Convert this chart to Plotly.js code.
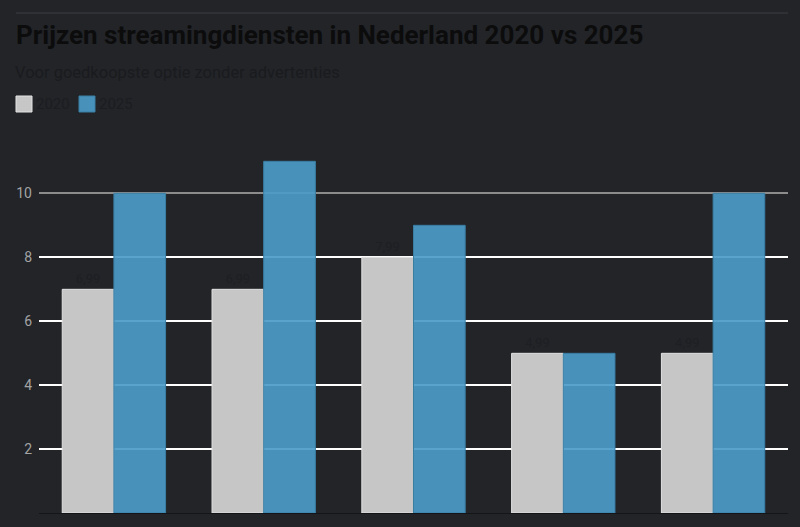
<!DOCTYPE html>
<html>
<head>
<meta charset="utf-8">
<script src="https://cdn.plot.ly/plotly-3.0.1.min.js"></script>
<style>
  html, body { margin: 0; padding: 0; background: #222428; }
  #chart { width: 800px; height: 527px; }
</style>
</head>
<body>
<div id="chart"></div>
<script>
// streamingdiensten, goedkoopste optie zonder advertenties
var diensten = ['Disney+', 'Videoland', 'Netflix', 'Amazon Prime Video', 'Apple TV+'];
var prijzen2020 = [6.99, 6.99, 7.99, 4.99, 4.99];
var prijzen2025 = [9.99, 10.99, 8.99, 4.99, 9.99];
var jaren = ['2020', '2025'];
var kleuren = ['#c6c6c6', 'rgba(75,155,200,0.92)'];
var randen = ['#e2e2e2', '#3a7ea4'];
var yTicks = [2, 4, 6, 8, 10];
var witteLijnen = [2, 4, 6, 8]; // bovenste lijn (10) is grijs

function euro(v) { return v.toFixed(2).replace('.', ','); }

// plotgebied: links 39px, rechts 788px, boven 129px, onder 513px
function px(x) { return (x - 39) / 749; }
function py(y) { return (513 - y) / 384; }

var trace2020 = {
  type: 'bar',
  name: jaren[0],
  x: diensten,
  y: prijzen2020,
  text: prijzen2020.map(euro),
  textposition: 'outside',
  textfont: { color: '#1e1f23', size: 13, family: 'Roboto' },
  cliponaxis: false,
  marker: { color: kleuren[0], line: { color: randen[0], width: 1 } },
  hoverinfo: 'none'
};

var trace2025 = {
  type: 'bar',
  name: jaren[1],
  x: diensten,
  y: prijzen2025,
  marker: { color: kleuren[1], line: { color: randen[1], width: 1 } },
  hoverinfo: 'none'
};

// legenda zelf tekenen: vierkantje + jaartal
var legX = [16, 79];
var legShapes = jaren.map(function (j, i) {
  return { type: 'rect', xref: 'paper', yref: 'paper',
    x0: px(legX[i]), x1: px(legX[i] + 16), y0: py(112), y1: py(96),
    fillcolor: kleuren[i], line: { color: randen[i], width: 1 } };
});
var legTexts = jaren.map(function (j, i) {
  return { text: j, xref: 'paper', yref: 'paper',
    x: px(legX[i] + 18), xanchor: 'left', y: py(104), yanchor: 'middle',
    showarrow: false, font: { size: 15, color: '#1c1d21' } };
});

var layout = {
  width: 800,
  height: 527,
  paper_bgcolor: '#222428',
  plot_bgcolor: '#222428',
  font: { family: 'Roboto, sans-serif', color: '#1c1d21' },
  title: {
    text: '<b>Prijzen streamingdiensten in Nederland 2020 vs 2025</b>',
    font: { size: 26, color: '#0c0c0d', family: 'Roboto' },
    xref: 'container', x: 16 / 800, xanchor: 'left',
    yref: 'container', y: 1 - 35 / 527, yanchor: 'middle'
  },
  barmode: 'group',
  bargap: 0.31,
  bargroupgap: 0,
  margin: { l: 39, r: 12, t: 129, b: 14, pad: 0 },
  showlegend: false,
  xaxis: {
    showgrid: false,
    showline: true,
    linecolor: '#141518',
    linewidth: 1,
    tickfont: { size: 14, color: '#1c1d21' },
    ticklabelstandoff: 9,
    fixedrange: true
  },
  yaxis: {
    range: [0, 12],
    tickvals: yTicks,
    ticktext: yTicks.map(String),
    showgrid: false,
    minor: { tickvals: witteLijnen, showgrid: true, gridcolor: '#ffffff', gridwidth: 1.5, ticks: '' },
    zeroline: false,
    showline: false,
    tickfont: { size: 14, color: '#a3a3a3' },
    ticklabelstandoff: 6,
    fixedrange: true
  },
  annotations: [{
    text: 'Voor goedkoopste optie zonder advertenties',
    xref: 'paper', yref: 'paper',
    x: px(13), xanchor: 'left',
    y: py(72), yanchor: 'middle',
    showarrow: false,
    font: { size: 16.5, color: '#1a1b1e' }
  }].concat(legTexts),
  shapes: [
    { type: 'line', xref: 'paper', yref: 'paper', x0: px(16), x1: 1, y0: py(13), y1: py(13),
      line: { color: '#3b3d42', width: 1 } },
    { type: 'line', xref: 'paper', yref: 'y', x0: 0, x1: 1, y0: 10, y1: 10, layer: 'between',
      line: { color: '#8c8c8c', width: 2 } }
  ].concat(legShapes)
};

Plotly.newPlot('chart', [trace2020, trace2025], layout, { displayModeBar: false, staticPlot: true });
</script>
</body>
</html>
